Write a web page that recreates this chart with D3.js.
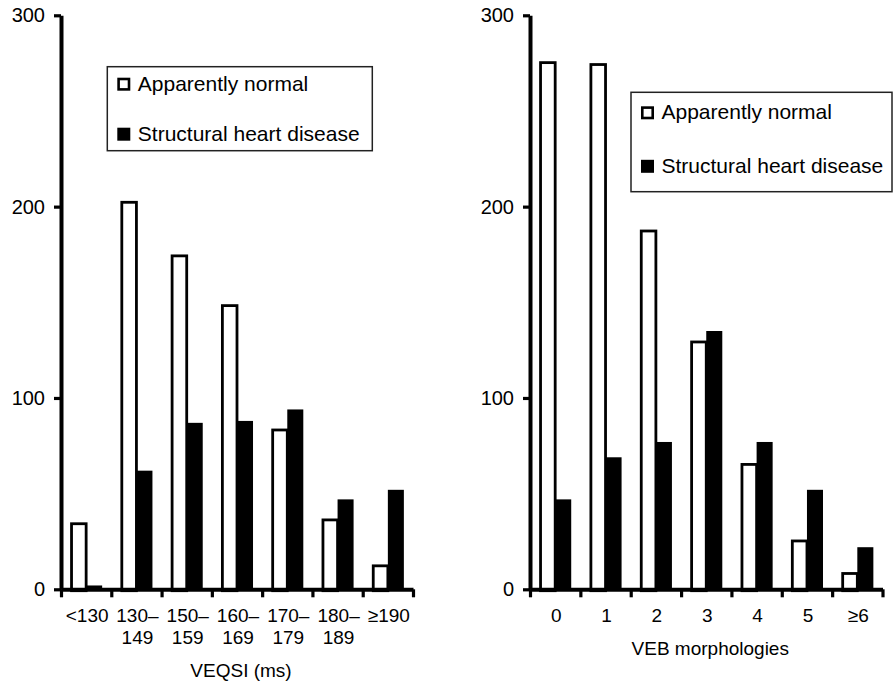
<!DOCTYPE html>
<html>
<head>
<meta charset="utf-8">
<script src="https://cdn.jsdelivr.net/npm/d3@7"></script>
<style>
  body { margin: 0; background: #fff; }
  svg text { font-family: "Liberation Sans", Arial, Helvetica, sans-serif; fill: #000; }
</style>
</head>
<body>
<div id="chart"></div>
<script>
// series names
var seriesNames = ["Apparently normal", "Structural heart disease"];

// left panel: VEQSI classes
var veqsiLabels = [["<130"], ["130–", "149"], ["150–", "159"], ["160–", "169"], ["170–", "179"], ["180–", "189"], ["≥190"]];
var veqsiNormal = [35, 203, 175, 149, 84, 37, 13];
var veqsiDisease = [2, 62, 87, 88, 94, 47, 52];

// right panel: number of VEB morphologies
var vebLabels = [["0"], ["1"], ["2"], ["3"], ["4"], ["5"], ["≥6"]];
var vebNormal = [276, 275, 188, 130, 66, 26, 9];
var vebDisease = [47, 69, 77, 135, 77, 52, 22];

var yTicks = [0, 100, 200, 300];

var width = 893,
    height = 682,
    yTop = 15.3,
    yBottom = 589.3;

var svg = d3.select("#chart")
    .append("svg")
    .attr("width", width)
    .attr("height", height);

var panels = [
    { labels: veqsiLabels, normal: veqsiNormal, disease: veqsiDisease, title: "VEQSI (ms)",
      left: 61, right: 413, titleY: 676.7,
      legend: { x: 107.3, y: 66.7, w: 265, h: 84, pad: 11, row: 50 } },
    { labels: vebLabels, normal: vebNormal, disease: vebDisease, title: "VEB morphologies",
      left: 530, right: 882.5, titleY: 655,
      legend: { x: 631, y: 92.3, w: 261, h: 99.4, pad: 14, row: 53.5 } }
];

var y = d3.scaleLinear()
    .domain([0, 300])
    .range([yBottom, yTop]);

var bw = 2.8;   // outline width of the open bars

panels.forEach(function(p){
    var n = p.labels.length,
        cats = d3.range(n);

    var x = d3.scaleBand()
        .domain(cats)
        .range([p.left, p.right]);

    var x1 = d3.scaleBand()
        .domain([0, 1])
        .range([0, x.bandwidth()])
        .paddingOuter(0.57);

    var xEdge = d3.scaleLinear()
        .domain([0, n])
        .range([p.left, p.right]);

    var g = svg.append("g");

    var rows = cats.map(function(i){ return [p.normal[i], p.disease[i]]; });

    // bars
    g.append("g")
        .selectAll("g")
        .data(rows)
        .join("g")
        .attr("transform", function(d, i){ return "translate(" + x(i) + ",0)"; })
        .selectAll("rect")
        .data(function(d){ return d; })
        .join("rect")
        .attr("x", function(d, j){ return x1(j) + (j == 0 ? bw / 2 : 0); })
        .attr("width", function(d, j){ return x1.bandwidth() - (j == 0 ? bw / 2 : 0); })
        .attr("y", function(d, j){ return y(d) + (j == 0 ? bw / 2 : 0); })
        .attr("height", function(d){ return Math.max(0, yBottom - y(d)); })
        .attr("fill", function(d, j){ return j == 0 ? "#fff" : "#000"; })
        .attr("stroke", function(d, j){ return j == 0 ? "#000" : "none"; })
        .attr("stroke-width", bw);

    // x axis with ticks at class boundaries
    var xAxis = g.append("g")
        .attr("transform", "translate(0," + yBottom + ")")
        .call(d3.axisBottom(xEdge).tickValues(d3.range(n + 1)).tickFormat("").tickSize(8).tickSizeOuter(0));
    xAxis.select(".domain").attr("stroke-width", 4);
    xAxis.selectAll(".tick line").attr("stroke-width", 3.2);

    // category labels (one or two lines)
    g.append("g")
        .selectAll("text")
        .data(p.labels)
        .join("text")
        .attr("text-anchor", "middle")
        .style("font-size", "19px")
        .attr("transform", function(d, i){ return "translate(" + (x(i) + x.bandwidth() / 2 + 1) + ",621.7)"; })
        .selectAll("tspan")
        .data(function(d){ return d; })
        .join("tspan")
        .attr("x", 0)
        .attr("y", function(d, k){ return k * 22.5; })
        .text(function(d){ return d; });

    // y axis
    var yAxis = g.append("g")
        .attr("transform", "translate(" + p.left + ",0)")
        .call(d3.axisLeft(y).tickValues(yTicks).tickSize(7).tickPadding(9).tickSizeOuter(0));
    yAxis.select(".domain").attr("stroke-width", 4);
    yAxis.selectAll(".tick line").attr("stroke-width", 3.2);
    yAxis.selectAll(".tick text")
        .style("font-size", "20px")
        .style("font-family", "'Liberation Sans', Arial, sans-serif");

    // axis title
    g.append("text")
        .attr("x", (p.left + p.right) / 2 + 4)
        .attr("y", p.titleY)
        .attr("text-anchor", "middle")
        .style("font-size", "19px")
        .text(p.title);

    // legend
    var L = p.legend;
    var lg = g.append("g");
    lg.append("rect")
        .attr("x", L.x).attr("y", L.y)
        .attr("width", L.w).attr("height", L.h)
        .attr("fill", "#fff")
        .attr("stroke", "#222")
        .attr("stroke-width", 1.5);

    var items = lg.selectAll("g.item")
        .data(seriesNames)
        .join("g")
        .attr("class", "item")
        .attr("transform", function(d, i){ return "translate(" + (L.x + 10) + "," + (L.y + L.pad + i * L.row) + ")"; });

    items.append("rect")
        .attr("x", function(d, i){ return i == 0 ? 1.3 : 0; })
        .attr("y", function(d, i){ return i == 0 ? 1.3 : 0; })
        .attr("width", function(d, i){ return i == 0 ? 10.4 : 13; })
        .attr("height", function(d, i){ return i == 0 ? 10.4 : 13; })
        .attr("fill", function(d, i){ return i == 0 ? "#fff" : "#000"; })
        .attr("stroke", function(d, i){ return i == 0 ? "#000" : "none"; })
        .attr("stroke-width", 2.6);

    items.append("text")
        .attr("x", 20.5)
        .attr("y", 13)
        .style("font-size", "21px")
        .text(function(d){ return d; });
});
</script>
</body>
</html>
